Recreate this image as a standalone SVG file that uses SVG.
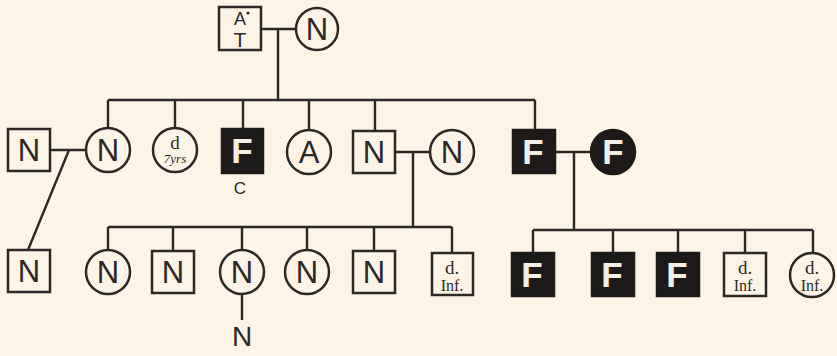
<svg xmlns="http://www.w3.org/2000/svg" width="837" height="356" viewBox="0 0 837 356">
<style>
.bg{fill:#fcf5e7}
.n{fill:none;stroke:#2b2826;stroke-width:2.5}
.a{fill:#1d1b1a;stroke:#1d1b1a;stroke-width:2.5}
.c{fill:none;stroke:#2b2826;stroke-width:2.4}
.t{font-family:"Liberation Sans","DejaVu Sans",sans-serif;font-size:31px;fill:#2b2826;text-anchor:middle}
.f{font-family:"Liberation Sans","DejaVu Sans",sans-serif;font-size:35px;font-weight:bold;fill:#f4efe4;text-anchor:middle}
.s{font-family:"Liberation Serif","DejaVu Serif",serif;fill:#2b2826;text-anchor:middle}
</style>
<rect class="bg" x="0" y="0" width="837" height="356"/>
<g id="connectors">
<path class="c" d="M261 29H296M278 29V100M108 100H535M108 100V128M175 100V128M243 100V129M309 100V129M375 100V130M535 100V130"/>
<path class="c" d="M50 150H86M69 150L28 250"/>
<path class="c" d="M395 152H430M413 152V227M108 227H452M108 227V250M173 227V250M242 227V250M307 227V250M374 227V250M452 227V253"/>
<path class="c" d="M242 294V320"/>
<path class="c" d="M555 152H590M574 152V230M533 230H813M533 230V253M613 230V253M678 230V253M745 230V253M813 230V253"/>
</g>
<g id="g1-father"><rect class="n" x="219" y="7" width="42" height="43"/><text class="t" x="240" y="25" style="font-size:18px">A</text><circle cx="248" cy="13" r="1.6" fill="#2b2826"/><text class="t" x="240" y="47" style="font-size:21px">T</text></g>
<g id="g1-mother"><circle class="n" cx="317" cy="29" r="21"/><text class="t" x="317" y="40">N</text></g>
<g id="g2-husband-n"><rect class="n" x="8" y="129" width="42" height="42"/><text class="t" x="29" y="161">N</text></g>
<g id="g2-n1"><circle class="n" cx="108" cy="150" r="22"/><text class="t" x="108" y="161">N</text></g>
<g id="g2-d7"><circle class="n" cx="175" cy="150" r="22"/><text class="s" x="175" y="149" font-size="19">d</text><text class="s" x="175" y="163" font-size="13" font-style="italic">7yrs</text></g>
<g id="g2-f1"><rect class="a" x="222" y="129" width="41" height="44"/><text class="f" x="242" y="163">F</text><text class="t" x="240" y="194" style="font-size:17px">C</text></g>
<g id="g2-a"><circle class="n" cx="309" cy="152" r="22"/><text class="t" x="309" y="163">A</text></g>
<g id="g2-n-square"><rect class="n" x="353" y="131" width="42" height="42"/><text class="t" x="374" y="163">N</text></g>
<g id="g2-n-wife"><circle class="n" cx="452" cy="152" r="22"/><text class="t" x="452" y="163">N</text></g>
<g id="g2-f-square"><rect class="a" x="513" y="130" width="42" height="43"/><text class="f" x="533" y="164">F</text></g>
<g id="g2-f-circle"><circle class="a" cx="613" cy="152" r="22"/><text class="f" x="613" y="164">F</text></g>
<g id="g3-n0"><rect class="n" x="8" y="250" width="42" height="42"/><text class="t" x="29" y="282">N</text></g>
<g id="g3-n1"><circle class="n" cx="108" cy="272" r="22"/><text class="t" x="108" y="283">N</text></g>
<g id="g3-n2"><rect class="n" x="152" y="251" width="42" height="42"/><text class="t" x="173" y="283">N</text></g>
<g id="g3-n3"><circle class="n" cx="242" cy="272" r="22"/><text class="t" x="242" y="283">N</text><text class="t" x="242" y="346" style="font-size:28px">N</text></g>
<g id="g3-n4"><circle class="n" cx="307" cy="272" r="22"/><text class="t" x="307" y="283">N</text></g>
<g id="g3-n5"><rect class="n" x="353" y="251" width="42" height="42"/><text class="t" x="374" y="283">N</text></g>
<g id="g3-dinf1"><rect class="n" x="432" y="253" width="41" height="42"/><text class="s" x="452" y="274" font-size="19">d.</text><text class="s" x="452" y="291" font-size="16">Inf.</text></g>
<g id="g3-f1"><rect class="a" x="512" y="253" width="42" height="43"/><text class="f" x="532" y="287">F</text></g>
<g id="g3-f2"><rect class="a" x="592" y="253" width="42" height="43"/><text class="f" x="612" y="287">F</text></g>
<g id="g3-f3"><rect class="a" x="657" y="253" width="42" height="43"/><text class="f" x="677" y="287">F</text></g>
<g id="g3-dinf2"><rect class="n" x="724" y="253" width="42" height="43"/><text class="s" x="745" y="274" font-size="19">d.</text><text class="s" x="745" y="291" font-size="16">Inf.</text></g>
<g id="g3-dinf3"><circle class="n" cx="812" cy="275" r="22"/><text class="s" x="812" y="274" font-size="19">d.</text><text class="s" x="812" y="291" font-size="16">Inf.</text></g>
</svg>
